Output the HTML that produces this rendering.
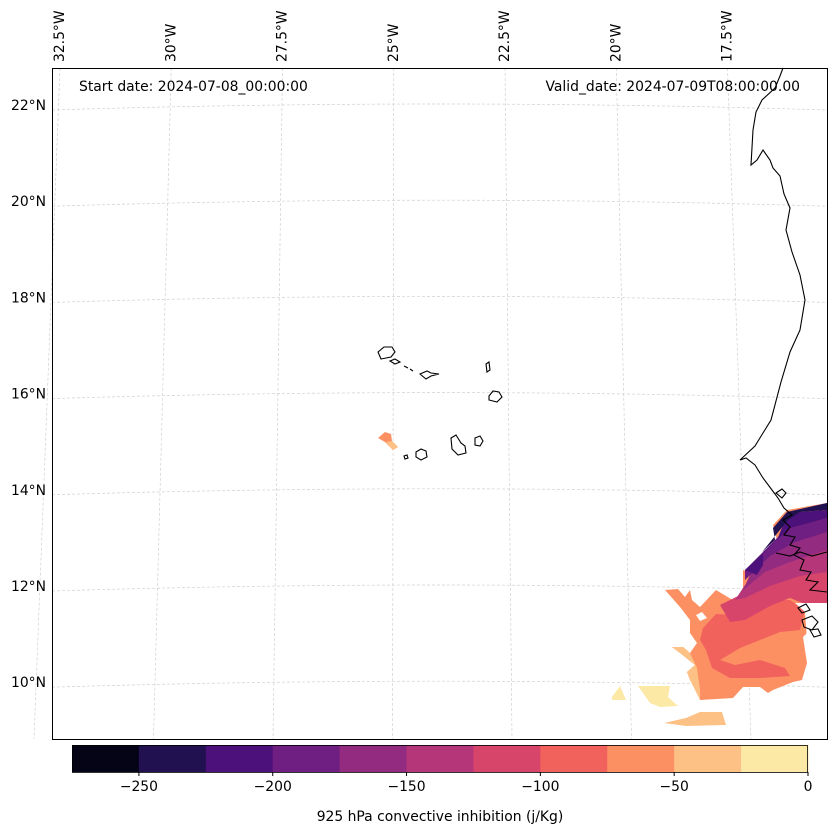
<!DOCTYPE html>
<html><head><meta charset="utf-8"><style>
body{margin:0;background:#fff;font-family:"DejaVu Sans","Liberation Sans",sans-serif;}
svg{display:block}
</style></head><body>
<svg id="fig" width="837" height="836" viewBox="0 0 837 836" xmlns="http://www.w3.org/2000/svg" font-family="DejaVu Sans, Liberation Sans, sans-serif">
<g id="grid" stroke="#d0d0d0" stroke-width="0.7" stroke-dasharray="3,2" fill="none"></g>
<g id="field">
 <polygon fill="#fce9a6" points="612,697 620,686 626,700 612,700"/>
 <polygon fill="#fce9a6" points="638,686 670,686 668,697 678,706 660,707 650,703"/>
 <polygon fill="#fec185" points="700,712 722,712 726,725 686,726 664,723 686,718"/>
 <polygon fill="#fc9063" points="665,590 678,589 685,597 690,590 692,600 700,607 716,590 736,602 743,597 743,570 757,575 763,568 763,552 777,540 773,525 787,510 827,503 827,603 807,603 807,633 803,637 807,663 802,680 793,682 773,690 768,693 760,687 743,687 733,698 700,700 700,690 690,680 687,672 695,665 680,653 672,647 683,647 690,653 697,643 690,633 690,620 680,607"/>
 <polygon fill="#fec185" points="672,647 683,647 690,653 697,668 700,690 700,700 690,680 687,672 695,665 680,653"/>
 <polygon fill="#f2625d" points="703,628 716,614 736,615 760,600 790,600 805,610 800,630 780,632 760,640 740,648 720,660 735,665 760,660 785,668 790,676 760,678 730,678 712,668 706,650 700,640"/>
 <polygon fill="#d8456b" points="720,605 740,595 770,585 800,575 827,570 827,605 810,606 790,598 770,606 745,620 730,622"/>
 <polygon fill="#b63779" points="735,600 745,585 765,570 790,560 827,548 827,572 800,576 770,586 745,598"/>
 <polygon fill="#932b80" points="743,590 750,575 770,555 795,540 827,530 827,550 790,562 765,572"/>
 <polygon fill="#6f1f81" points="745,580 745,570 760,555 775,540 790,525 827,515 827,532 795,542 770,556"/>
 <polygon fill="#4c117a" points="745,570 757,575 763,565 763,552 777,540 785,520 800,512 827,510 827,518 790,528 775,542 760,556"/>
 <polygon fill="#221150" points="762,552 775,540 773,528 787,512 827,503 827,510 800,512 788,520"/>
 <polygon fill="#fc9063" points="378,438 385,432 391,434 392,441 398,447 393,450 385,442"/>
 <polygon fill="#fec185" points="386,442 392,441 398,447 393,450"/>
 <polygon fill="#fff" points="795,603 827,603 827,640 807,640 805,612"/>
 <polygon fill="#fff" points="696,615 702,612 707,618 700,621"/>
</g>
<g id="coast" fill="none" stroke="#000" stroke-width="1.1">
 <polyline points="783,68 780,76 775,88 762,100 756,112 753,130 751,165 757,160 763,150 770,160 773,168 780,176 784,194 790,208 786,230 792,252 800,275 805,300 800,330 790,352 781,382 771,420 755,446 740,460 746,458 755,465 763,478 772,490 778,498 784,508 792,515 783,520 790,527 784,535 795,537 790,545 800,548 794,555 804,560 800,570 811,572 806,580 818,582 810,590 827,592"/>
 <polyline points="776,553 790,556 800,552 812,556 827,552"/>
 <path d="M378,352 l6,-5 8,0 3,5 -4,5 -10,2 z M390,361 l5,-2 5,3 -5,2 z M404,366 l4,2 M410,369 l3,2 M420,374 l7,-3 4,2 8,1 -8,2 -5,3 z M486,364 l3,-2 1,8 -3,2 z M489,396 l4,-5 6,1 3,5 -5,5 -8,-2 z M451,438 l5,-3 5,8 4,3 1,7 -8,2 -6,-6 z M475,438 l5,-2 3,5 -3,5 -5,-1 z M416,452 l5,-3 5,2 1,6 -6,3 -5,-3 z M404,456 l3,-1 1,3 -3,1 z M776,493 l6,-4 4,4 -4,5 z M798,608 l8,-4 4,6 -8,3 z M802,620 l10,-4 6,6 -6,8 -8,-3 z M810,630 l8,-1 3,6 -7,2 z"/>
</g>
<rect x="52.5" y="68.5" width="775" height="671" fill="none" stroke="#000" stroke-width="1"/>
<text x="79" y="91" font-size="13.9">Start date: 2024-07-08_00:00:00</text>
<text x="800" y="91" font-size="13.9" text-anchor="end">Valid_date: 2024-07-09T08:00:00.00</text>
<g id="lonlab" font-size="13.9"></g>
<g id="latlab" font-size="13.9"></g>
<g id="cbar"></g>
<text x="440" y="821" font-size="13.9" text-anchor="middle">925 hPa convective inhibition (j/Kg)</text>
</svg>
<script>
const lonLabels=["32.5°W","30°W","27.5°W","25°W","22.5°W","20°W","17.5°W"];
const lonTop=[-32.5,-30,-27.5,-25,-22.5,-20,-17.5];
const latLabels=["22°N","20°N","18°N","16°N","14°N","12°N","10°N"];
const latValues=[22,20,18,16,14,12,10];
const cbBounds=[-275,-250,-225,-200,-175,-150,-125,-100,-75,-50,-25,0];
const cbColors=["#050416","#221150","#4c117a","#6f1f81","#932b80","#b63779","#d8456b","#f2625d","#fc9063","#fec185","#fce9a6"];
const cbTicks=[-250,-200,-150,-100,-50,0];
const NS="http://www.w3.org/2000/svg";
function mk(t,a,p){const e=document.createElementNS(NS,t);for(const k in a)e.setAttribute(k,a[k]);p.appendChild(e);return e;}
const lonXTop=v=>60+(v+32.5)*44.5;
const lonXBot=v=>34+(v+32.5)*47.8;
const latY=v=>106+(22-v)*48.1;
const grid=document.getElementById('grid');
lonTop.forEach(v=>{const l=mk('line',{x1:lonXTop(v),y1:68,x2:lonXBot(v),y2:739},grid);

});
latValues.forEach(v=>{const y=latY(v);const p=mk('path',{d:`M52,${y+4} Q440,${y-8} 827,${y+4}`},grid);

});
const lonlab=document.getElementById('lonlab');
lonTop.forEach((v,i)=>{const x=lonXTop(v)+4;const t=mk('text',{x:x,y:62,transform:`rotate(-90 ${x} 62)`},lonlab);t.textContent=lonLabels[i];

});
const latlab=document.getElementById('latlab');
latValues.forEach((v,i)=>{const t=mk('text',{x:46,y:latY(v)+4,'text-anchor':'end'},latlab);t.textContent=latLabels[i];

});
const cb=document.getElementById('cbar');
const cx=v=>72+(v+275)/275*736;
for(let i=0;i<cbColors.length;i++){const r=mk('rect',{x:cx(cbBounds[i]),y:745,width:cx(cbBounds[i+1])-cx(cbBounds[i])+0.5,height:27,fill:cbColors[i]},cb);

}
mk('rect',{x:72.5,y:745.5,width:735,height:27,fill:'none',stroke:'#000','stroke-width':0.8},cb);
cbTicks.forEach(v=>{const x=cx(v);mk('line',{x1:x,y1:772,x2:x,y2:776,stroke:'#000'},cb);
const t=mk('text',{x:x,y:791,'text-anchor':'middle','font-size':13.9},cb);t.textContent=v<0?'−'+(-v):v;

});
</script>
</body></html>
